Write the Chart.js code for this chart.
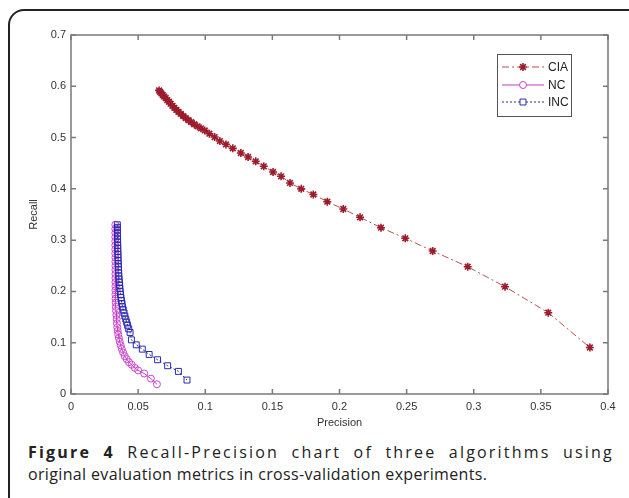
<!DOCTYPE html>
<html>
<head>
<meta charset="utf-8">
<script src="https://cdn.jsdelivr.net/npm/chart.js@4.4.1/dist/chart.umd.min.js"></script>
<style>
    body { margin: 0; background: #fff; width: 629px; height: 498px; overflow: hidden; position: relative; }
    #frame { position: absolute; left: 8px; top: 9px; width: 640px; height: 540px; border: 2px solid #222; border-radius: 16px; box-sizing: border-box; }
    #myChart { position: absolute; left: 0; top: 0; }
    .cap { position: absolute; left: 28px; width: 586px; font-family: 'Open Sans', sans-serif; font-size: 16px; letter-spacing: 0.35px; color: #222; white-space: nowrap; line-height: 20px; }
    #cap1 { top: 442px; letter-spacing: 2.2px; text-align: justify; text-align-last: justify; white-space: normal; }
    #cap2 { top: 464px; }
</style>
</head>
<body>
<div id="frame"></div>
<canvas id="myChart" width="629" height="430"></canvas>
<div class="cap" id="cap1"><b>Figure 4</b> Recall-Precision chart of three algorithms using</div>
<div class="cap" id="cap2">original evaluation metrics in cross-validation experiments.</div>
<script>
const xTicks = [0, 0.05, 0.1, 0.15, 0.2, 0.25, 0.3, 0.35, 0.4];
const yTicks = [0, 0.1, 0.2, 0.3, 0.4, 0.5, 0.6, 0.7];

// CIA
const ciaPrecision = [0.0656, 0.0664, 0.0673, 0.0683, 0.0694, 0.0705, 0.0717, 0.0729, 0.0742, 0.0756,
    0.0770, 0.0785, 0.0801, 0.0818, 0.0836, 0.0855, 0.0875, 0.0896, 0.0918, 0.0942, 0.0968, 0.0996,
    0.1031, 0.1070, 0.1109, 0.1154, 0.1205, 0.1265, 0.1319, 0.1376, 0.1436, 0.1505, 0.1565, 0.1631,
    0.1715, 0.1805, 0.1909, 0.2028, 0.2153, 0.2309, 0.2490, 0.2694, 0.2955, 0.3233, 0.3555, 0.3865];
const ciaRecall = [0.592, 0.589, 0.586, 0.583, 0.580, 0.577, 0.573, 0.570, 0.566, 0.562,
    0.558, 0.554, 0.550, 0.546, 0.542, 0.538, 0.534, 0.530, 0.526, 0.522, 0.518, 0.514,
    0.5075, 0.501, 0.4932, 0.4867, 0.479, 0.4699, 0.4621, 0.4537, 0.444, 0.4329, 0.4245, 0.4115,
    0.400, 0.389, 0.375, 0.3607, 0.3445, 0.3243, 0.3036, 0.2788, 0.2482, 0.2092, 0.1585, 0.0907];

// NC
const ncPrecision = [0.0330, 0.0330, 0.0330, 0.0330, 0.0330, 0.0330, 0.0330, 0.0330, 0.0331, 0.0331,
    0.0331, 0.0331, 0.0331, 0.0331, 0.0331, 0.0331, 0.0331, 0.0331, 0.0332, 0.0333, 0.0334, 0.0336,
    0.0338, 0.0340, 0.0342, 0.0345, 0.0348, 0.0352, 0.0357, 0.0363, 0.0370, 0.0378, 0.0388, 0.0400,
    0.0415, 0.0432, 0.0452, 0.0475, 0.0500, 0.0545, 0.0595, 0.0640];
const ncRecall = [0.330, 0.322, 0.314, 0.306, 0.298, 0.290, 0.282, 0.274, 0.266, 0.258,
    0.250, 0.242, 0.234, 0.226, 0.218, 0.210, 0.202, 0.194, 0.186, 0.178, 0.170, 0.162,
    0.154, 0.146, 0.138, 0.130, 0.123, 0.116, 0.109, 0.102, 0.095, 0.088, 0.081, 0.074,
    0.068, 0.062, 0.057, 0.051, 0.046, 0.040, 0.030, 0.019];

// INC
const incPrecision = [0.0345, 0.0345, 0.0345, 0.0346, 0.0346, 0.0347, 0.0347, 0.0348, 0.0348, 0.0349,
    0.0350, 0.0350, 0.0351, 0.0352, 0.0353, 0.0354, 0.0355, 0.0356, 0.0358, 0.0360, 0.0362, 0.0364,
    0.0366, 0.0369, 0.0372, 0.0376, 0.0380, 0.0384, 0.0389, 0.0395, 0.0401, 0.0408, 0.0415, 0.0422,
    0.0430, 0.0440, 0.0450, 0.0486, 0.0531, 0.0582, 0.0645, 0.0720, 0.0800, 0.0864];
const incRecall = [0.330, 0.325, 0.320, 0.314, 0.308, 0.302, 0.296, 0.290, 0.284, 0.278,
    0.272, 0.266, 0.260, 0.254, 0.248, 0.242, 0.236, 0.230, 0.224, 0.218, 0.212, 0.206,
    0.200, 0.194, 0.188, 0.182, 0.176, 0.170, 0.164, 0.158, 0.152, 0.146, 0.140, 0.134,
    0.127, 0.120, 0.1056, 0.0959, 0.0875, 0.0771, 0.0668, 0.0551, 0.0441, 0.0272];

function toPoints(xs, ys) {
    return xs.map((x, i) => ({ x: x, y: ys[i] }));
}

function fmt(v) {
    return String(Number(v.toFixed(2)));
}

Chart.defaults.font = {
    family: "'Liberation Sans', Arial, sans-serif",
    size: 11,
};
Chart.defaults.color = '#333';

// matlab style box: full frame, inward ticks, legend box
const boxPlugin = {
    id: 'matlabBox',
    afterDraw(chart) {
        const ctx = chart.ctx;
        const a = chart.chartArea;
        const xs = chart.scales.x;
        const ys = chart.scales.y;
        ctx.save();
        ctx.strokeStyle = '#7a7a7a';
        ctx.lineWidth = 1.5;
        ctx.strokeRect(a.left, a.top, a.right - a.left, a.bottom - a.top);
        ctx.beginPath();
        xTicks.forEach(v => {
            const p = xs.getPixelForValue(v);
            ctx.moveTo(p, a.bottom); ctx.lineTo(p, a.bottom - 5);
            ctx.moveTo(p, a.top); ctx.lineTo(p, a.top + 5);
        });
        yTicks.forEach(v => {
            const p = ys.getPixelForValue(v);
            ctx.moveTo(a.left, p); ctx.lineTo(a.left + 5, p);
            ctx.moveTo(a.right, p); ctx.lineTo(a.right - 5, p);
        });
        ctx.stroke();

        // legend
        const lx = 497, ly = 54, lw = 74, lh = 62;
        ctx.fillStyle = '#fff';
        ctx.fillRect(lx, ly, lw, lh);
        ctx.strokeStyle = '#555';
        ctx.lineWidth = 1;
        ctx.strokeRect(lx + 0.5, ly + 0.5, lw, lh);
        const rows = [13, 31, 48];
        chart.data.datasets.forEach((ds, i) => {
            const y = ly + rows[i];
            ctx.save();
            ctx.strokeStyle = ds.borderColor;
            ctx.lineWidth = 1;
            ctx.setLineDash(ds.borderDash || []);
            ctx.beginPath();
            ctx.moveTo(lx + 5, y);
            ctx.lineTo(lx + 47, y);
            ctx.stroke();
            ctx.restore();

            ctx.save();
            ctx.strokeStyle = ds.pointBorderColor;
            ctx.fillStyle = ds.pointStyle === 'star' ? ds.pointBorderColor : '#fff';
            ctx.lineWidth = ds.pointBorderWidth;
            Chart.helpers.drawPoint(ctx, {
                pointStyle: ds.pointStyle,
                radius: ds.pointRadius,
                borderWidth: ds.pointBorderWidth,
                rotation: 0
            }, lx + 26, y);
            ctx.restore();

            ctx.fillStyle = '#222';
            ctx.textBaseline = 'middle';
            ctx.textAlign = 'left';
            ctx.font = "12px 'Liberation Sans', Arial, sans-serif";
            ctx.fillText(ds.label, lx + 51, y + 1);
        });
        ctx.restore();
    }
};

const ctx = document.getElementById('myChart');

new Chart(ctx, {
    type: 'scatter',
    data: {
        datasets: [{
            label: 'CIA',
            data: toPoints(ciaPrecision, ciaRecall),
            showLine: true,
            borderColor: '#b85050',
            borderWidth: 1,
            borderDash: [7, 3, 2, 3],
            pointStyle: 'star',
            pointRadius: 4,
            pointBorderWidth: 1.6,
            pointBorderColor: '#9c1c2c',
            pointBackgroundColor: '#9c1c2c',
            order: 0
        }, {
            label: 'NC',
            data: toPoints(ncPrecision, ncRecall),
            showLine: true,
            borderColor: '#c040c0',
            borderWidth: 1,
            pointStyle: 'circle',
            pointRadius: 3.5,
            pointBorderWidth: 1,
            pointBorderColor: '#cc44cc',
            pointBackgroundColor: 'rgba(0,0,0,0)',
            order: 2
        }, {
            label: 'INC',
            data: toPoints(incPrecision, incRecall),
            showLine: true,
            borderColor: '#30307a',
            borderWidth: 1,
            borderDash: [2, 2],
            pointStyle: 'rect',
            pointRadius: 4.2,
            pointBorderWidth: 1,
            pointBorderColor: '#2a2ab4',
            pointBackgroundColor: 'rgba(0,0,0,0)',
            order: 1
        }]
    },
    options: {
        responsive: false,
        animation: false,
        devicePixelRatio: 1,
        layout: {
            padding: { left: 0, top: 35, right: 21, bottom: 0 }
        },
        plugins: {
            legend: { display: false },
            tooltip: { enabled: false }
        },
        scales: {
            x: {
                type: 'linear',
                min: 0,
                max: 0.4,
                grid: { display: false, drawTicks: false },
                border: { display: false },
                afterBuildTicks: s => { s.ticks = xTicks.map(v => ({ value: v })); },
                afterFit: s => { s.height = 36; },
                ticks: { padding: 6, maxRotation: 0, autoSkip: false, callback: v => fmt(v) },
                title: { display: true, text: 'Precision', padding: { top: 0, bottom: 0 } }
            },
            y: {
                type: 'linear',
                min: 0,
                max: 0.7,
                grid: { display: false, drawTicks: false },
                border: { display: false },
                afterBuildTicks: s => { s.ticks = yTicks.map(v => ({ value: v })); },
                afterFit: s => { s.width = 71; },
                ticks: { padding: 5, autoSkip: false, callback: v => fmt(v) },
                title: { display: true, text: 'Recall', padding: { top: 27, bottom: 0 } }
            }
        }
    },
    plugins: [boxPlugin]
});
</script>
</body>
</html>
